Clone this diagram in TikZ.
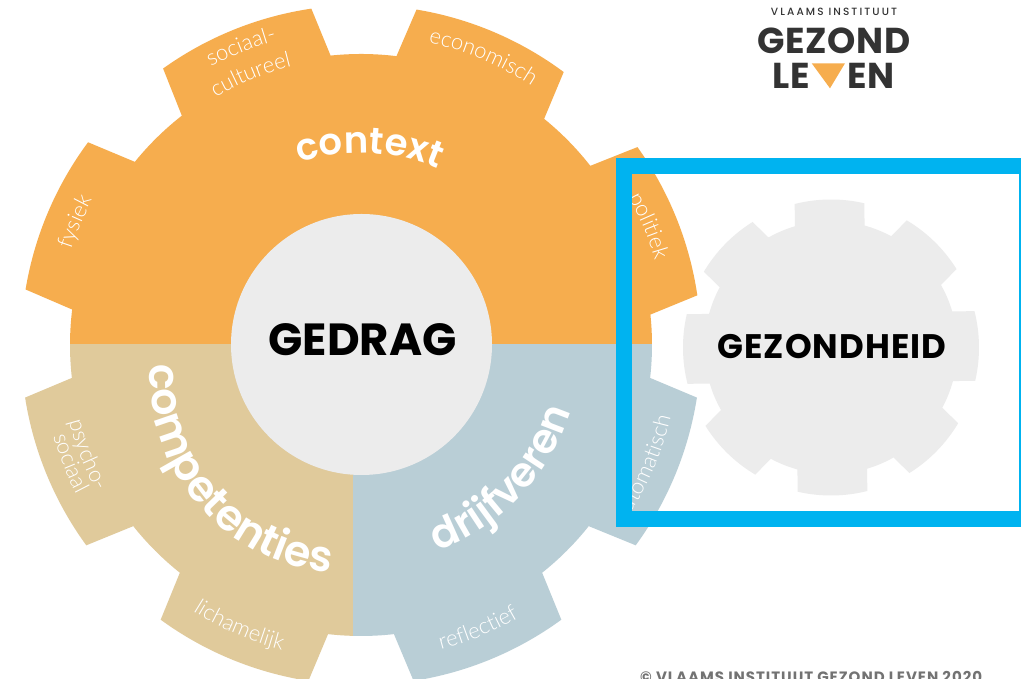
\documentclass[tikz,border=0pt]{standalone}
\usepackage{fontspec}
\usetikzlibrary{decorations.text}
\setmainfont{Lato}
\newfontfamily\popf{Poppins}
\newfontfamily\popsemi{Poppins SemiBold}
\newfontfamily\popword{Poppins}[LetterSpace=3]
\newfontfamily\poplogo{Poppins}[LetterSpace=2]
\newfontfamily\poptop{Poppins Medium}[LetterSpace=20]
\newfontfamily\popcopy{Poppins}[LetterSpace=6.5]
\newfontfamily\smallf{Lato Light}
\definecolor{ctx}{HTML}{F6AD4E}
\definecolor{cmp}{HTML}{E0CA9B}
\definecolor{drv}{HTML}{B9CED6}
\definecolor{lgt}{HTML}{ECECEC}
\definecolor{frm}{HTML}{00B3F0}
\definecolor{ink}{HTML}{333333}
\newcommand\gear[5]{% colour, tip radius, root radius, first angle, tooth list
 \fill[#1] (#4-16:#3 pt) foreach \c/\n in {#5}{
   -- (\c-16:#3 pt) -- (\c-13.6:#2 pt) arc[start angle=\c-13.6,end angle=\c+13.6,radius=#2 pt] -- (\c+16:#3 pt)
   arc[start angle=\c+16,end angle=\n-16,radius=#3 pt]
 } -- cycle;}
\newcommand\cwtext[5]{% font, radius, centre angle, half span, text: clockwise
 \path[decorate,decoration={text along path,text align=center,text color=white,text={|#1|#5}}]
   (#3+#4:#2 pt) arc[start angle=#3+#4,end angle=#3-#4,radius=#2 pt];}
\newcommand\ccwtext[5]{% counter-clockwise
 \path[decorate,decoration={text along path,text align=center,text color=white,text={|#1|#5}}]
   (#3-#4:#2 pt) arc[start angle=#3-#4,end angle=#3+#4,radius=#2 pt];}
\newcommand\biglab{\popsemi\fontsize{37}{37}\selectfont}
\newcommand\biglabb{\popsemi\fontsize{41}{41}\selectfont}
\newcommand\biglabc{\popsemi\fontsize{43}{43}\selectfont}
\newcommand\minil{\smallf\fontsize{22}{22}\selectfont}
\newcommand\biggear[1]{\gear{#1}{340}{291}{22}{22/67,67/112,112/157,157/202.5,202.5/247.5,247.5/292.5,292.5/337.5,337.5/382}}
\begin{document}
\begin{tikzpicture}[x=1pt,y=1pt]
\useasboundingbox (0,0) rectangle (1021,679);
\clip (0,0) rectangle (1021,679);
\fill[white] (0,0) rectangle (1021,679);
% big gear: three sectors
\begin{scope}[shift={(361,334)}]
\begin{scope}
\clip (-400,0) rectangle (400,400);
\biggear{ctx}
\end{scope}
\begin{scope}
\clip (-400,0) rectangle (-8,-400);
\biggear{cmp}
\end{scope}
\begin{scope}
\clip (-8,0) rectangle (400,-400);
\biggear{drv}
\end{scope}
\cwtext{\biglab}{192}{87.5}{45}{context}
\begin{scope}[shift={(-13,-30.4)}]
\ccwtext{\biglabc}{198}{-139}{70}{competenties}
\end{scope}
\ccwtext{\biglabb}{220}{-43.5}{50}{drijfveren}
\cwtext{\minil}{310}{67}{30}{economisch}
\cwtext{\minil}{316}{111.9}{30}{sociaal-}
\cwtext{\minil}{287}{112.2}{30}{cultureel}
\cwtext{\minil}{305}{156.7}{30}{fysiek}
\cwtext{\minil}{306}{22.5}{30}{politiek}
\ccwtext{\minil}{318}{-23.5}{30}{automatisch}
\ccwtext{\minil}{315}{-67.6}{30}{reflectief}
\ccwtext{\minil}{315}{-113.4}{30}{lichamelijk}
\ccwtext{\minil}{302}{-158.2}{30}{psycho-}
\ccwtext{\minil}{321}{-157.9}{30}{sociaal}
\end{scope}
\node[circle,fill=lgt,inner sep=0pt,minimum size=261pt] (core) at (361.5,334.5) {};
\node[font=\popf\bfseries\fontsize{45}{45}\selectfont,text=black,inner sep=0pt] (gedrag) at (362.5,339) {GEDRAG};
% small gear
\begin{scope}[shift={(831,331.5)}]
\gear{lgt}{148}{126.5}{0.6}{0.6/45.6,45.6/90.6,90.6/135.6,135.6/180.6,180.6/225.6,225.6/270.6,270.6/315.6,315.6/360.6}
\end{scope}
\node[font=\popword\bfseries\fontsize{34}{34}\selectfont,text=black,inner sep=0pt] (gezondheid) at (832,332.5) {GEZONDHEID};
% frame
\draw[frm,line width=16pt] (624,160) rectangle (1027,513);
% logo
\node[font=\poptop\fontsize{10.5}{10.5}\selectfont,text=ink,inner sep=0pt] (vlaams) at (834,667.5) {VLAAMS INSTITUUT};
\node[font=\poplogo\bfseries\fontsize{36}{36}\selectfont,text=ink,inner sep=0pt] (gezond) at (834,638) {GEZOND};
\node[font=\poplogo\bfseries\fontsize{36}{36}\selectfont,text=ink,inner sep=0pt,anchor=east] (le) at (810,603.5) {LE};
\node[font=\poplogo\bfseries\fontsize{36}{36}\selectfont,text=ink,inner sep=0pt,anchor=west] (en) at (847,603.5) {EN};
\fill[ctx] (811.7,615.7) -- (845,615.7) -- (830,590.7) -- cycle;
% copyright
\node[font=\popcopy\bfseries\fontsize{15}{15}\selectfont,text=black!55,inner sep=0pt,anchor=base west] (copy) at (640,-3.5) {© VLAAMS INSTITUUT GEZOND LEVEN 2020};
\end{tikzpicture}
\end{document}
